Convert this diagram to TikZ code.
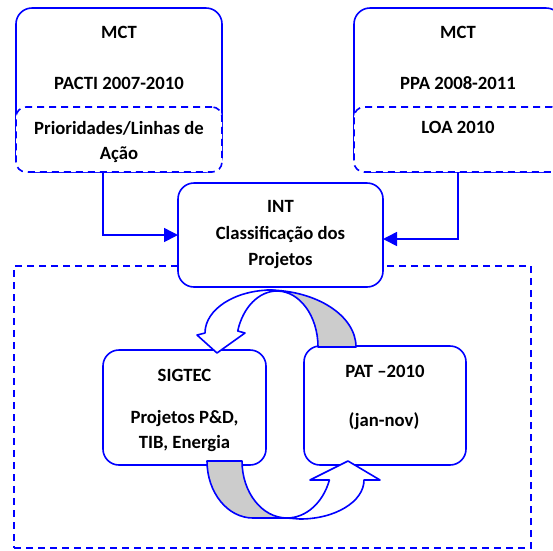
\documentclass[tikz,border=0pt]{standalone}
\usepackage{fontspec}
\setmainfont{Carlito}
\usetikzlibrary{arrows.meta,calc}
\definecolor{bandgray}{RGB}{204,204,204}
\begin{document}
\begin{tikzpicture}[x=1pt,y=-1pt,
  every node/.style={inner sep=0pt,outer sep=0pt},
  txt/.style={font=\fontsize{18.7}{22}\selectfont\bfseries,anchor=base},
  solidbox/.style={draw=blue,line width=1.6pt,rounded corners=16pt,fill=white},
  dashbox/.style={draw=blue,line width=1.6pt,rounded corners=10pt,fill=white,dash pattern=on 7pt off 5pt},
  framebox/.style={draw=blue,line width=1.6pt,dash pattern=on 7pt off 5pt},
  conn/.style={draw=blue,line width=1.6pt,-{Triangle[length=14pt,width=14pt]}},
  band/.style={draw=blue,line width=1.6pt,line join=round}
]
\clip (0,0) rectangle (553,550);

% outer dashed frame
\node[framebox,minimum width=517pt,minimum height=282pt] (frame) at (272.5,407) {};

% top boxes
\node[solidbox,minimum width=206pt,minimum height=164pt] (mctL) at (119,90) {};
\node[dashbox,minimum width=206pt,minimum height=65pt] (prioL) at (119,139.5) {};
\node[solidbox,minimum width=208pt,minimum height=164pt] (mctR) at (458,90) {};
\node[dashbox,minimum width=208pt,minimum height=65pt] (loaR) at (458,139.5) {};

\node[txt] (tMctL) at (119,38) {MCT};
\node[txt] (tPacti) at (119,89) {PACTI 2007-2010};
\node[txt] (tPrio) at (119,134) {Prioridades/Linhas de};
\node[txt] (tAcao) at (119,159) {Ação};
\node[txt] (tMctR) at (458,38) {MCT};
\node[txt] (tPpa) at (458,89) {PPA 2008-2011};
\node[txt] (tLoa) at (458,133) {LOA 2010};

% INT box
\node[solidbox,minimum width=205pt,minimum height=104pt] (int) at (280.5,235) {};
\node[txt] (tInt) at (280.5,212) {INT};
\node[txt] (tClass) at (280.5,239.5) {Classificação dos};
\node[txt] (tProj) at (280.5,265) {Projetos};

% connectors
\draw[conn] ($(prioL.south west)!0.422!(prioL.south east)$) |- (int.west);
\draw[conn] (loaR.south) |- ($(int.east)+(0,4)$);

% lower boxes
\node[solidbox,minimum width=163pt,minimum height=115pt] (sig) at (184.5,407.5) {};
\node[solidbox,minimum width=162pt,minimum height=119pt] (pat) at (385,405.5) {};
\node[txt] (tSig) at (184.5,381) {SIGTEC};
\node[txt] (tPd) at (184.5,423) {Projetos P\&D,};
\node[txt] (tTib) at (184.5,448) {TIB, Energia};
\node[txt] (tPat) at (385,377) {PAT –2010};
\node[txt] (tJan) at (384,426) {(jan-nov)};

% top curved arrow (PAT -> SIGTEC)
\filldraw[band,fill=bandgray] (356,347)
  arc[start angle=0,end angle=-90,x radius=89,y radius=57] -- (277,291)
  arc[start angle=-90,end angle=0,x radius=41,y radius=56] -- cycle;
\filldraw[band,fill=white] (277,291) -- (272,290)
  arc[start angle=-90,end angle=-180,x radius=67,y radius=43]
  -- (197,335) -- (217,353) -- (245,333) -- (237.7,331)
  arc[start angle=196.6,end angle=270,x radius=41,y radius=56] -- cycle;

% bottom curved arrow (SIGTEC -> PAT)
\filldraw[band,fill=bandgray] (207,461)
  arc[start angle=180,end angle=90,x radius=46,y radius=57] -- (287,518)
  arc[start angle=90,end angle=180,x radius=45,y radius=57] -- cycle;
\filldraw[band,fill=white] (287,518) -- (300,519)
  arc[start angle=90,end angle=0,x radius=64,y radius=39]
  -- (380,480) -- (348,461) -- (310,480) -- (329.4,480)
  arc[start angle=19.5,end angle=90,x radius=45,y radius=57] -- cycle;
\end{tikzpicture}
\end{document}
